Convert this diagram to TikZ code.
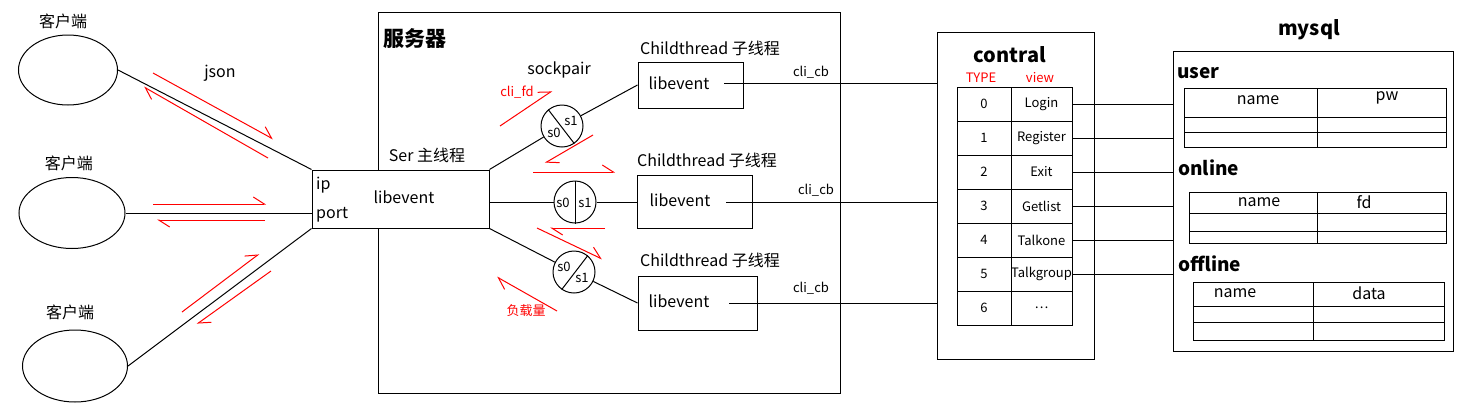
\documentclass[tikz,border=0pt]{standalone}
\usepackage{fontspec}
\setmainfont{Noto Sans CJK SC}
\usetikzlibrary{shapes.geometric,arrows.meta,calc}

\tikzset{
  txt/.style={inner sep=0pt, font=\fontsize{16}{19}\selectfont},
  sml/.style={inner sep=0pt, font=\fontsize{13}{15}\selectfont},
  redtxt/.style={sml, text=red},
  hd/.style={inner sep=0pt, font=\fontsize{20}{24}\selectfont\bfseries},
  tbl/.style={inner sep=0pt, font=\fontsize{19}{22}\selectfont\bfseries, anchor=west},
  frame/.style={draw, line width=1pt, inner sep=0pt},
  box/.style={draw, line width=1pt, fill=white, inner sep=0pt},
  client/.style={draw, ellipse, line width=1pt, inner sep=0pt},
  sock/.style={draw, circle, line width=1pt, inner sep=0pt, minimum size=42pt},
  cell/.style={draw, line width=1pt, inner sep=0pt, minimum height=34pt, font=\fontsize{13}{15}\selectfont},
  link/.style={line width=1pt},
  msg/.style={draw=red, line width=1pt, -{Straight Barb[harpoon, length=11pt, width=14pt]}}
}

\begin{document}
\begin{tikzpicture}[x=1pt, y=-1pt]
\useasboundingbox (0,0) rectangle (1476,416);

%% clients
\node[client, minimum width=99pt, minimum height=70pt] (c1) at (68,70) {};
\node[txt] at (63,21) {客户端};
\node[client, minimum width=106pt, minimum height=71pt] (c2) at (72,213) {};
\node[txt] at (69,163) {客户端};
\node[client, minimum width=105pt, minimum height=72pt] (c3) at (75,366) {};
\node[txt] at (70,312) {客户端};
\node[txt] at (220,73) {json};

%% server
\node[frame, minimum width=462pt, minimum height=381pt] (srv) at (609,202.5) {};
\node[hd, font=\fontsize{21}{25}\selectfont\bfseries] at (415,39) {服务器};
\node[box, minimum width=177pt, minimum height=58pt] (ser) at (400.5,199) {};
\node[txt, anchor=west] at (316,185) {ip};
\node[txt, anchor=west] at (316,215) {port};
\node[txt] at (404,197) {libevent};
\node[txt] at (427,155) {Ser 主线程};

\draw[link] (c1.east) -- (ser.north west);
\draw[link] (c2.east) -- (c2.east -| ser.west);
\draw[link] (c3.east) -- (ser.south west);

%% child threads
\node[box, minimum width=105pt, minimum height=46pt] (ct1) at (690.5,85) {};
\node[txt] (ev1) at (679,83) {libevent};
\node[txt] at (710,48) {Childthread 子线程};
\node[box, minimum width=115pt, minimum height=53pt] (ct2) at (694.5,201.5) {};
\node[txt] (ev2) at (680,200) {libevent};
\node[txt] at (707,160) {Childthread 子线程};
\node[box, minimum width=119pt, minimum height=54pt] (ct3) at (697.5,303) {};
\node[txt] (ev3) at (679,301) {libevent};
\node[txt] at (710,260) {Childthread 子线程};

%% sockpairs
\node[txt] at (559,70) {sockpair};
\node[sock] (sp1) at (562,126) {};
\draw[link] (sp1.130) -- (sp1.-55);
\node[sml] at (554,133) {s0};
\node[sml] at (571,121) {s1};
\node[sock] (sp2) at (575,202) {};
\draw[link] (sp2.north) -- (sp2.south);
\node[sml] at (563,203) {s0};
\node[sml] at (585,203) {s1};
\node[sock] (sp3) at (574,272) {};
\draw[link] (sp3.50) -- (sp3.235);
\node[sml] at (564,267) {s0};
\node[sml] at (582,278) {s1};

\draw[link] (ser.north east) -- (sp1);
\draw[link] (sp1) -- (ct1.west);
\draw[link] (sp2.west -| ser.east) -- (sp2.west);
\draw[link] (sp2.east) -- (sp2.east -| ct2.west);
\draw[link] (ser.south east) -- (sp3);
\draw[link] (sp3) -- (ct3.west);

%% contral
\node[frame, minimum width=157pt, minimum height=327pt] (ctl) at (1015.5,195.5) {};
\node[hd] at (1010,55) {contral};
\node[redtxt] at (981,78) {TYPE};
\node[redtxt] at (1040,78) {view};
\foreach \i/\v in {0/Login,1/Register,2/Exit,3/Getlist,4/Talkone,5/Talkgroup,6/\ldots} {
  \node[cell, minimum width=54pt] (t\i) at (984,{104+34*\i}) {\i};
  \node[cell, minimum width=61pt] (v\i) at (1041.5,{104+34*\i}) {\v};
}

%% callbacks
\coordinate (cb1) at (724,83);
\coordinate (cb2) at (726,202);
\coordinate (cb3) at (729,303);
\draw[link] (cb1) -- (cb1 -| ctl.west);
\draw[link] (cb2) -- (cb2 -| ctl.west);
\draw[link] (cb3) -- (cb3 -| ctl.west);
\node[sml] at (811,72) {cli\_cb};
\node[sml] at (816,190) {cli\_cb};
\node[sml] at (811,288) {cli\_cb};

%% mysql
\node[frame, minimum width=280pt, minimum height=300pt] (db) at (1313,201) {};
\node[hd] at (1309,30) {mysql};
\foreach \i in {0,1,2,3,4,5} \draw[link] (v\i.east) -- (v\i.east -| db.west);

\node[tbl] at (1177,73) {user};
\draw[link] (1184,88) rectangle (1446,147) (1184,117) -- (1446,117)
  (1184,132) -- (1446,132) (1317,88) -- (1317,147);
\node[txt] at (1258,100) {name};
\node[txt] at (1387,98) {pw};

\node[tbl] at (1178,168) {online};
\draw[link] (1189,192) rectangle (1446,243) (1189,213) -- (1446,213)
  (1189,231) -- (1446,231) (1317,192) -- (1317,243);
\node[txt] at (1259,202) {name};
\node[txt] at (1364,202) {fd};

\node[tbl] at (1178,264) {offline};
\draw[link] (1193,282) rectangle (1444,340) (1193,306) -- (1444,306)
  (1193,322) -- (1444,322) (1313,282) -- (1313,340);
\node[txt] at (1235,293) {name};
\node[txt] at (1369,293) {data};

%% messages
\draw[msg] (153,73) -- (273,139);
\draw[msg] (268,158) -- (144,87);
\draw[msg] (153,204) -- (266,204);
\draw[msg] (265,220) -- (157,220);
\draw[msg] (182,312) -- (259,254);
\draw[msg] (271,271) -- (197,324);
\draw[msg] (500,126) -- (552,91);
\draw[msg] (593,135) -- (545,163);
\draw[msg] (533,172) -- (615,172);
\draw[msg] (605,228) -- (550,228);
\draw[msg] (537,228) -- (602,259);
\draw[msg] (557,311) -- (497,277);
\node[redtxt] at (517,92) {cli\_fd};
\node[redtxt] at (526,311) {负载量};

\end{tikzpicture}
\end{document}
